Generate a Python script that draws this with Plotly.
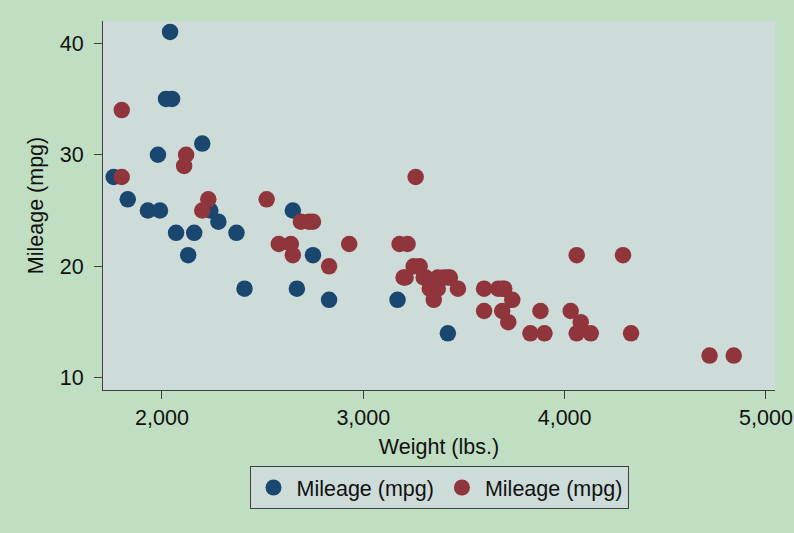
import plotly.graph_objects as go

# foreign cars (blue)
weight_foreign = [2830, 2070, 2650, 2370, 2020, 2280, 2750, 2130, 2240, 1760, 1980,
                  3420, 1830, 2050, 2410, 2200, 2670, 2160, 2040, 1930, 1990, 3170]
mpg_foreign = [17, 23, 25, 23, 35, 24, 21, 21, 25, 28, 30,
               14, 26, 35, 18, 31, 18, 23, 41, 25, 25, 17]

# domestic cars (red)
weight_domestic = [2930, 3350, 2640, 3250, 4080, 3670, 2230, 3280, 3880, 3400, 4330,
                   3900, 4290, 2110, 3690, 3180, 3220, 2750, 3430, 2120, 3600, 3600,
                   3740, 1800, 2650, 4720, 4840, 3830, 2580, 4060, 3720, 3370, 4130,
                   2830, 4060, 3310, 3300, 3690, 3370, 2730, 4030, 3260, 1800, 2200,
                   2520, 3330, 3700, 3470, 3210, 3200, 3420, 2690]
mpg_domestic = [22, 17, 22, 20, 15, 18, 26, 20, 16, 19, 14,
                14, 21, 29, 16, 22, 22, 24, 19, 30, 18, 16,
                17, 28, 21, 12, 12, 14, 22, 14, 15, 18, 14,
                20, 21, 19, 19, 18, 19, 24, 16, 28, 34, 25,
                26, 18, 18, 18, 19, 19, 19, 24]

x_ticks = [2000, 3000, 4000, 5000]
x_tick_labels = ["2,000", "3,000", "4,000", "5,000"]
y_ticks = [10, 20, 30, 40]

FONT = "Liberation Sans, Arial, sans-serif"
FS = 21.5
fig = go.Figure()
fig.add_trace(go.Scatter(x=weight_foreign, y=mpg_foreign, mode="markers", name="Mileage (mpg)",
                         marker=dict(size=16.5, color="#1a476f", line=dict(width=0))))
fig.add_trace(go.Scatter(x=weight_domestic, y=mpg_domestic, mode="markers", name="Mileage (mpg)",
                         marker=dict(size=16.5, color="#90353b", line=dict(width=0))))

fig.update_layout(
    width=794, height=533,
    margin=dict(l=103, r=19, t=21, b=143),
    paper_bgcolor="#c0dec2", plot_bgcolor="#cddcd9",
    font=dict(family=FONT, size=FS, color="#111"),
    showlegend=True,
    legend=dict(orientation="h", x=0.5, xanchor="center", y=-0.206, yanchor="top",
                bgcolor="#cddcd9", bordercolor="#404040", borderwidth=1,
                font=dict(size=FS), itemwidth=36),
)
fig.update_xaxes(range=[1707, 5045], tickvals=x_ticks, ticktext=x_tick_labels, automargin=False,
                 showgrid=False, zeroline=False, showline=True, linecolor="#404040", linewidth=1,
                 ticks="outside", ticklen=8, tickcolor="#404040",
                 title=dict(text="Weight (lbs.)", standoff=10, font=dict(size=FS)))
fig.update_yaxes(range=[8.92, 41.98], tickvals=y_ticks, automargin=False,
                 showgrid=False, zeroline=False, showline=True, linecolor="#404040", linewidth=1,
                 ticks="outside", ticklen=8, tickcolor="#404040", ticklabelstandoff=6,
                 title=dict(text="Mileage (mpg)", standoff=10, font=dict(size=FS)))

fig.write_html("out.html", config={"displayModeBar": False},
               post_script="document.body.style.margin='0';")
